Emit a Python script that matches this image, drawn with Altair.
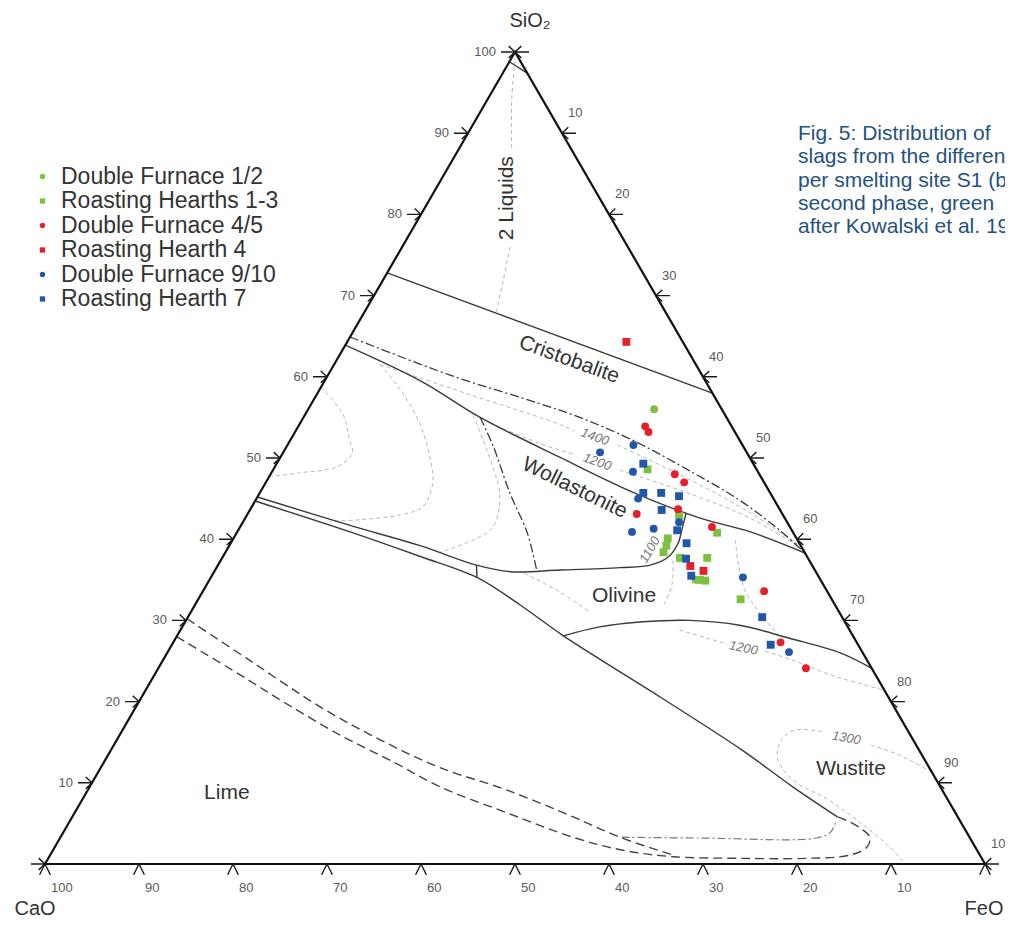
import altair as alt
import pandas as pd

FONT = "Liberation Sans"

# ---------------- data: compositions as (SiO2 %, FeO %), CaO = 100 - SiO2 - FeO ----------------
GROUPS = ["Double Furnace 1/2", "Roasting Hearths 1-3", "Double Furnace 4/5",
          "Roasting Hearth 4", "Double Furnace 9/10", "Roasting Hearth 7"]
COLORS = ["#7cc142", "#7cc142", "#e5202a", "#e5202a", "#2256a8", "#2256a8"]
SHAPES = ["circle", "square", "circle", "square", "circle", "square"]

DF12 = [(56.0, 36.8), (35.0, 51.7)]
RH13 = [(48.6, 39.8), (40.8, 51.1), (40.1, 46.2), (39.2, 46.5), (38.4, 46.6), (37.7, 48.7),
        (37.7, 51.6), (35.0, 52.2), (34.9, 52.8), (32.6, 57.7), (42.9, 46.0)]
DF45 = [(53.9, 36.9), (53.2, 37.6), (48.0, 43.0), (47.0, 44.5), (43.7, 45.5), (43.1, 41.4),
        (41.5, 50.2), (33.6, 59.7), (27.3, 64.6), (24.1, 68.9)]
RH4 = [(64.3, 29.7), (36.7, 50.3), (36.1, 52.0)]
DF910 = [(50.7, 33.7), (51.6, 36.8), (48.3, 38.4), (45.0, 40.6), (40.9, 42.0), (41.3, 44.1),
         (42.1, 46.4), (35.3, 56.6), (26.1, 66.1)]
RH7 = [(49.3, 39.0), (45.7, 40.8), (45.7, 42.7), (45.3, 44.8), (43.6, 43.8), (41.1, 46.7),
       (39.5, 48.5), (37.6, 49.4), (35.5, 51.0), (30.4, 61.1), (27.0, 63.7)]

# phase diagram: triangle and field boundaries
TRIANGLE = [(0, 0), (0, 100), (100, 0), (0, 0)]
CRISTOBALITE = [(72.8, 0), (58.0, 42.0)]
WOLLASTONITE = [(63.9, 0), (59.5, 10.2), (55.0, 18.8), (50.1, 29.7), (45.8, 39.6), (42.6, 48.4),
                (40.9, 54.6), (38.3, 61.7)]
OLIVINE_TOP = [(45.2, 0), (41.7, 11.6), (39.2, 20.3), (36.8, 27.5), (36.0, 31.5), (36.2, 36.7),
               (36.5, 42.9), (36.8, 46.0), (37.8, 47.4), (39.5, 47.6), (41.4, 47.1), (43.2, 46.6)]
LIME_BOUNDARY = [(44.7, 0), (40.9, 12.0), (37.9, 20.9), (35.3, 28.3), (31.9, 34.6), (28.1, 41.1),
                 (20.6, 55.1), (14.0, 67.2), (9.5, 74.8), (5.8, 81.4)]
CONNECTOR = [(36.8, 27.5), (35.3, 28.3)]
OLIVINE_BOTTOM = [(28.1, 41.1), (29.2, 44.4), (29.8, 48.4), (30.0, 53.6), (29.4, 59.2),
                  (27.8, 65.3), (26.0, 71.6), (24.1, 75.9)]
APEX = [(98.8, 0), (97.4, 2.6)]

DASHDOT_UPPER = [(64.9, 0), (60.2, 13.0), (57.1, 23.0), (55.0, 29.4), (52.2, 36.4), (48.8, 43.6),
                 (44.8, 51.5), (41.1, 57.6), (38.3, 61.7)]
DASHDOT_VERT = [(55.0, 18.8), (51.4, 22.0), (45.7, 26.6), (40.8, 30.9), (36.2, 34.2)]
DASHDOT_LOW = [(3.3, 59.7), (3.2, 68.1), (3.2, 80.5), (3.9, 81.6), (5.4, 81.5)]

DASH_UPPER = [(30.2, 0), (25.1, 9.2), (19.3, 19.7), (15.3, 28.0), (11.9, 36.0), (9.1, 44.6),
              (5.8, 53.3), (3.3, 59.5), (1.1, 66.3)]
DASH_LOWER = [(28.0, 0), (23.3, 9.1), (19.8, 15.7), (15.9, 23.4), (12.6, 30.7), (9.5, 37.3),
              (6.3, 46.0), (3.3, 54.5), (1.7, 60.6), (0.9, 66.4), (0.7, 73.6), (0.7, 80.7),
              (1.1, 85.1), (2.1, 86.4), (3.3, 86.1), (4.2, 84.9), (5.2, 83.0), (5.8, 81.4)]

# isotherms (thin grey dashed)
ISO_2LIQ_A = [(99.0, 0.5), (94.1, 2.6), (87.9, 5.7)]
ISO_2LIQ_B = [(76.0, 11.5), (71.9, 12.8), (68.0, 14.0)]
ISO_L1 = [(58.7, 0), (55.5, 3.9), (52.2, 6.3), (50.6, 7.4), (48.9, 6.6), (48.2, 3.1), (47.7, 0)]
ISO_L2 = [(61.5, 4.9), (58.4, 8.6), (54.3, 12.7), (49.8, 16.1), (46.9, 17.8), (44.0, 18.2),
          (43.0, 16.3), (42.4, 12.3), (42.2, 9.2)]
ISO_L3 = [(55.3, 17.9), (48.9, 23.2), (45.2, 25.8), (41.5, 26.9), (39.9, 25.6), (38.4, 22.8)]
ISO_1400_A = [(61.5, 4.9), (57.8, 16.3), (54.1, 27.8), (53.3, 29.7)]
ISO_1400_B = [(51.6, 35.1), (47.3, 45.0), (43.3, 53.3), (39.2, 60.7)]
ISO_1200W_A = [(54.3, 20.2), (51.8, 26.7), (50.4, 31.2)]
ISO_1200W_B = [(48.5, 36.9), (45.6, 45.8), (42.6, 53.7), (39.0, 60.8)]
ISO_1100 = [(37.4, 48.1), (34.4, 49.5), (31.9, 49.9)]
ISO_OL_A = [(35.8, 33.1), (33.5, 38.0), (31.0, 42.5)]
ISO_1200O_A = [(28.8, 53.1), (27.2, 58.7)]
ISO_1200O_B = [(26.2, 63.5), (25.1, 67.0), (23.3, 71.9), (21.4, 78.6)]
ISO_OL_B = [(39.9, 53.5), (37.4, 55.0), (33.7, 57.6), (30.9, 60.6), (28.3, 63.8)]
ISO_1300_A = [(11.3, 88.7), (13.4, 84.2), (14.7, 80.4)]
ISO_1300_B = [(16.3, 74.5), (16.5, 71.5), (15.3, 70.7), (13.2, 71.3), (11.3, 73.1), (9.7, 75.5),
              (8.3, 78.6), (5.4, 83.7), (2.1, 88.8), (0, 91.5)]

TICKS = list(range(0, 101, 10))

REGION_NAMES = ["2 Liquids", "Cristobalite", "Wollastonite", "Olivine", "Lime", "Wustite"]
REGION_POS = [(82.0, 8.1), (62.1, 24.7), (46.3, 33.2), (33.0, 45.1), (8.7, 15.0), (11.7, 79.9)]
ISO_NAMES = ["1400", "1200", "1100", "1200", "1300"]
ISO_POS = [(52.6, 32.2), (49.5, 34.0), (38.7, 45.0), (26.6, 61.0), (15.5, 77.5)]

CAPTION = ["Fig.  5:  Distribution  of", "slags from the different", "per smelting site S1 (b",
           "second phase, green", "after Kowalski et al. 19"]

# ---------------- chart ----------------
xs = alt.Scale(domain=[-3.936, 102.128], nice=False, zero=False)
ys = alt.Scale(domain=[-6.773, 105.419], nice=False, zero=False)
X = alt.X("X:Q", scale=xs, axis=None)
Y = alt.Y("Y:Q", scale=ys, axis=None)


def tern(ch):
    return ch.transform_calculate(X="datum.FeO + datum.SiO2 / 2", Y="datum.SiO2")


def curves_frame(curves):
    rows = []
    for cid, pts in enumerate(curves):
        for k, (s, f) in enumerate(pts):
            rows.append({"id": cid, "ord": k, "SiO2": s, "FeO": f})
    return pd.DataFrame(rows)


def line_layer(curves, **mark):
    return tern(alt.Chart(curves_frame(curves)).mark_line(**mark)).encode(
        x=X, y=Y, detail="id:N", order="ord:Q")


layers = []
layers.append(line_layer([ISO_2LIQ_A, ISO_2LIQ_B, ISO_L1, ISO_L2, ISO_L3, ISO_1400_A, ISO_1400_B,
                          ISO_1200W_A, ISO_1200W_B, ISO_1100, ISO_OL_A, ISO_1200O_A, ISO_1200O_B,
                          ISO_OL_B, ISO_1300_A, ISO_1300_B],
                         color="#b8b8b8", strokeWidth=1, strokeDash=[4, 3], interpolate="catmull-rom"))
layers.append(line_layer([CRISTOBALITE, WOLLASTONITE, OLIVINE_TOP, LIME_BOUNDARY, CONNECTOR,
                          OLIVINE_BOTTOM, APEX],
                         color="#3a3a3a", strokeWidth=1.4, interpolate="catmull-rom"))
layers.append(line_layer([DASHDOT_UPPER, DASHDOT_VERT],
                         color="#3a3a3a", strokeWidth=1.3, strokeDash=[9, 3, 2, 3],
                         interpolate="catmull-rom"))
layers.append(line_layer([DASHDOT_LOW],
                         color="#777777", strokeWidth=1.2, strokeDash=[8, 3, 2, 3],
                         interpolate="catmull-rom"))
layers.append(line_layer([DASH_UPPER, DASH_LOWER],
                         color="#444444", strokeWidth=1.4, strokeDash=[9, 5],
                         interpolate="catmull-rom"))
layers.append(line_layer([TRIANGLE], color="#111111", strokeWidth=2.2))

tick_df = pd.DataFrame({"t": TICKS})
lab_df = pd.DataFrame({"t": TICKS[1:], "lab": [str(t) for t in TICKS[1:]]})

LEFT_PATH = "M -1 0 L 0 0 M -0.45 -0.42 L 0 0 L -0.45 0.42"
RIGHT_PATH = "M 1 0 L 0 0 M 0.45 -0.42 L 0 0 L 0.45 0.42"
BOTTOM_PATH = "M -0.45 0.9 L 0 0 L 0.45 0.9"

sides = [
    ("datum.t", "0", LEFT_PATH, 784),
    ("100 - datum.t", "datum.t", RIGHT_PATH, 784),
    ("0", "100 - datum.t", BOTTOM_PATH, 576),
]
for s_expr, f_expr, path, size in sides:
    layers.append(tern(alt.Chart(tick_df).transform_calculate(SiO2=s_expr, FeO=f_expr)
                       .mark_point(shape=path, size=size, filled=False, color="#1a1a1a",
                                   strokeWidth=1.4, opacity=1)).encode(x=X, y=Y))

lab_styles = [
    ("datum.t", "0", dict(align="right", baseline="middle", dx=-19, dy=0)),
    ("100 - datum.t", "datum.t", dict(align="left", baseline="middle", dx=6, dy=-20)),
    ("0", "100 - datum.t", dict(align="left", baseline="middle", dx=6, dy=24)),
]
for s_expr, f_expr, st in lab_styles:
    layers.append(tern(alt.Chart(lab_df).transform_calculate(SiO2=s_expr, FeO=f_expr)
                       .mark_text(font=FONT, fontSize=13, color="#5a5a5a", **st))
                  .encode(x=X, y=Y, text="lab:N"))

# points
prow = []
for g, arr in zip(GROUPS, [DF12, RH13, DF45, RH4, DF910, RH7]):
    for s, f in arr:
        prow.append({"group": g, "SiO2": s, "FeO": f})
pdf = pd.DataFrame(prow)
leg = alt.Legend(title=None, orient="none", legendX=23, legendY=157, labelFont=FONT,
                 labelFontSize=23, labelColor="#333333", labelLimit=400, symbolSize=28,
                 rowPadding=0.5, labelOffset=7, padding=0, symbolStrokeWidth=0)
layers.append(tern(alt.Chart(pdf).mark_point(filled=True, size=62, opacity=1, strokeWidth=0))
              .encode(x=X, y=Y,
                      color=alt.Color("group:N", scale=alt.Scale(domain=GROUPS, range=COLORS),
                                      legend=leg, sort=GROUPS),
                      shape=alt.Shape("group:N", scale=alt.Scale(domain=GROUPS, range=SHAPES),
                                      legend=leg, sort=GROUPS)))

# region labels
region_angles = [270, 20, 26, 0, 0, 0]
for name, (s, f), ang in zip(REGION_NAMES, REGION_POS, region_angles):
    d = pd.DataFrame({"lab": [name], "SiO2": [s], "FeO": [f]})
    layers.append(tern(alt.Chart(d).mark_text(font=FONT, fontSize=21, color="#333333",
                                              angle=ang, align="center", baseline="middle"))
                  .encode(x=X, y=Y, text="lab:N"))

iso_angles = [20, 20, 300, 12, 10]
for name, (s, f), ang in zip(ISO_NAMES, ISO_POS, iso_angles):
    d = pd.DataFrame({"lab": [name], "SiO2": [s], "FeO": [f]})
    layers.append(tern(alt.Chart(d).mark_text(font=FONT, fontSize=13, color="#777777",
                                              fontStyle="italic", angle=ang, align="center",
                                              baseline="middle"))
                  .encode(x=X, y=Y, text="lab:N"))

# axis titles and caption
titles = [("SiO₂", 522, 13), ("CaO", 27, 901), ("FeO", 976, 901)]
for txt, px, py in titles:
    layers.append(alt.Chart(pd.DataFrame({"lab": [txt]})).mark_text(
        font=FONT, fontSize=20, color="#333333", align="center", baseline="middle")
        .encode(x=alt.value(px), y=alt.value(py), text="lab:N"))

layers.append(alt.Chart(pd.DataFrame({"lab": ["\n".join(CAPTION)]})).mark_text(
    font=FONT, fontSize=21, color="#24527f", align="left", baseline="top",
    lineBreak="\n", lineHeight=23.3)
    .encode(x=alt.value(790), y=alt.value(115), text="lab:N"))

chart = alt.layer(*layers).properties(
    width=997, height=911, padding=0,
    autosize=alt.AutoSizeParams(type="none")
).configure_view(stroke=None)

chart.save("out.html", embed_options={"renderer": "svg", "actions": False})
